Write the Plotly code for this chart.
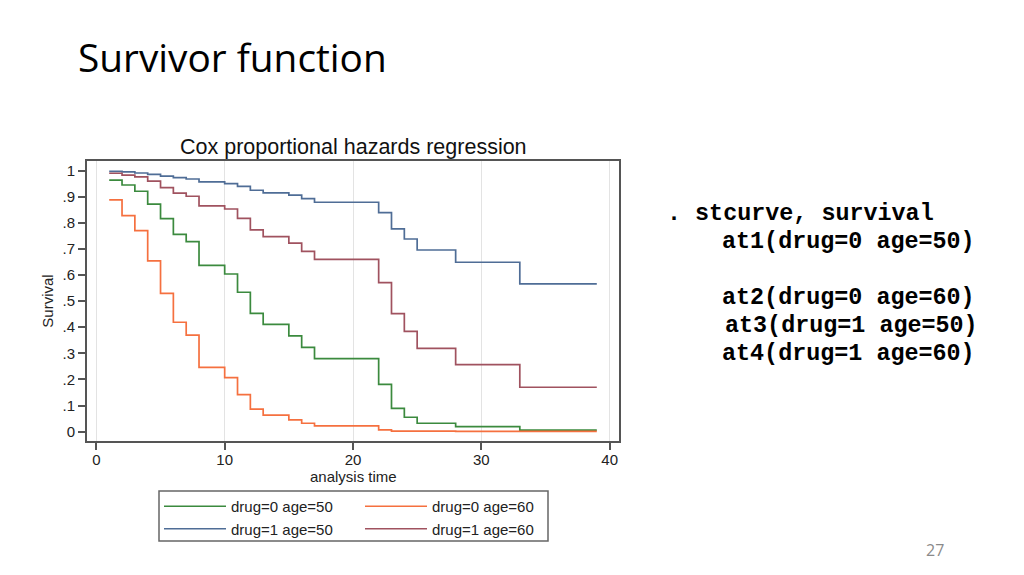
import plotly.graph_objects as go

# event times (analysis time), last one just closes the step line
times = [1, 2, 3, 4, 5, 6, 7, 8, 10, 11, 12, 13, 15, 16, 17, 22, 23, 24, 25, 28, 33, 39]

surv_d0_a50 = [0.964, 0.945, 0.921, 0.872, 0.816, 0.756, 0.728, 0.637, 0.604, 0.534, 0.453,
               0.411, 0.367, 0.323, 0.280, 0.181, 0.089, 0.055, 0.032, 0.019, 0.006, 0.006]
surv_d0_a60 = [0.888, 0.828, 0.770, 0.654, 0.530, 0.419, 0.370, 0.246, 0.207, 0.142, 0.086,
               0.063, 0.045, 0.032, 0.022, 0.007, 0.002, 0.002, 0.002, 0.001, 0.001, 0.001]
surv_d1_a50 = [0.997, 0.995, 0.991, 0.986, 0.979, 0.973, 0.968, 0.957, 0.950, 0.940, 0.925,
               0.915, 0.906, 0.893, 0.879, 0.839, 0.777, 0.738, 0.696, 0.649, 0.566, 0.566]
surv_d1_a60 = [0.990, 0.983, 0.976, 0.960, 0.935, 0.914, 0.902, 0.865, 0.853, 0.817, 0.773,
               0.747, 0.722, 0.691, 0.660, 0.571, 0.452, 0.384, 0.319, 0.257, 0.170, 0.170]

series_names = ['drug=0 age=50', 'drug=0 age=60', 'drug=1 age=50', 'drug=1 age=60']
series_vals = [surv_d0_a50, surv_d0_a60, surv_d1_a50, surv_d1_a60]
series_colors = ['#3b8a3e', '#f5703f', '#4f6d96', '#a0525f']

y_tick_vals = [0, 0.1, 0.2, 0.3, 0.4, 0.5, 0.6, 0.7, 0.8, 0.9, 1]
y_tick_text = ['0', '.1', '.2', '.3', '.4', '.5', '.6', '.7', '.8', '.9', '1']
x_tick_vals = [0, 10, 20, 30, 40]

code_lines = ['. stcurve, survival', 'at1(drug=0 age=50)', 'at2(drug=0 age=60)',
              'at3(drug=1 age=50)', 'at4(drug=1 age=60)']

# page has an 8px body margin, so the figure is 8px smaller and all
# positions below are page pixels
OFF = 8
W, H = 1024 - OFF, 575 - OFF
L, R, T, B = 87, 619, 161, 441


def px_x(p):
    return (p - L) / (R - L)


def px_y(p):
    return (B - p) / (B - T)


fig = go.Figure()
for name, vals, col in zip(series_names, series_vals, series_colors):
    fig.add_trace(go.Scatter(x=times, y=vals, mode='lines', name=name,
                             line=dict(color=col, width=1.7, shape='hv')))

axis_font = dict(family='Liberation Sans, Arial, sans-serif', size=15, color='#222')

fig.update_layout(
    width=W, height=H,
    margin=dict(l=L - OFF, r=W - (R - OFF), t=T - OFF, b=H - (B - OFF)),
    paper_bgcolor='white',
    plot_bgcolor='white',
    font=axis_font,
    showlegend=True,
    legend=dict(
        orientation='h', x=px_x(159), y=px_y(490), xanchor='left', yanchor='top',
        borderwidth=0, bgcolor='rgba(0,0,0,0)', tracegroupgap=0,
        font=dict(family='Liberation Sans, Arial, sans-serif', size=15, color='#222'),
        itemwidth=62, entrywidth=124, traceorder='normal',
    ),
    xaxis=dict(
        range=[-0.73, 40.73], tickvals=x_tick_vals, showgrid=True, gridcolor='#e3e3e3',
        gridwidth=1, zeroline=False, showline=True, linecolor='#555', linewidth=2,
        mirror=True, ticks='outside', ticklen=7, tickcolor='#555', tickwidth=1.5,
        tickfont=axis_font, ticklabelstandoff=-3,
    ),
    yaxis=dict(
        range=[-0.036, 1.037], tickvals=y_tick_vals, ticktext=y_tick_text, showgrid=False,
        zeroline=False, showline=True, linecolor='#555', linewidth=2, mirror=True,
        ticks='outside', ticklen=7, tickcolor='#555', tickwidth=1.5,
        title=dict(text='Survival', standoff=5, font=axis_font), tickfont=axis_font,
    ),
)

# legend frame
fig.add_shape(type='rect', xref='paper', yref='paper',
              x0=px_x(159), x1=px_x(548), y0=px_y(541), y1=px_y(491),
              line=dict(color='#666', width=1.5), fillcolor='rgba(0,0,0,0)')

# x axis title
fig.add_annotation(text='analysis time', xref='paper', yref='paper',
                   x=px_x(353), y=px_y(476), xanchor='center', yanchor='middle',
                   showarrow=False, font=axis_font)

# slide title
fig.add_annotation(text='Survivor function', xref='paper', yref='paper',
                   x=px_x(76), y=px_y(57), xanchor='left', yanchor='middle', showarrow=False,
                   font=dict(family='Open Sans, Noto Sans, sans-serif', size=38.8, color='black'))
# chart title
fig.add_annotation(text='Cox proportional hazards regression', xref='paper', yref='paper',
                   x=px_x(353), y=px_y(147), xanchor='center', yanchor='middle', showarrow=False,
                   font=dict(family='Liberation Sans, Arial, sans-serif', size=21.5, color='#111'))

# stata command text
code_x = [665, 720, 720, 723, 720]
code_y = [214, 242, 298, 326, 354]
for txt, cx, cy in zip(code_lines, code_x, code_y):
    fig.add_annotation(text='<b>' + txt + '</b>', xref='paper', yref='paper',
                       x=px_x(cx), y=px_y(cy), xanchor='left', yanchor='middle',
                       showarrow=False,
                       font=dict(family='Liberation Mono, DejaVu Sans Mono, monospace',
                                 size=23.4, color='black'))

# slide number
fig.add_annotation(text='27', xref='paper', yref='paper', x=px_x(935), y=px_y(550),
                   xanchor='center', yanchor='middle', showarrow=False,
                   font=dict(family='Open Sans, sans-serif', size=16, color='#8a8a8a'))

fig.write_html('out.html')
